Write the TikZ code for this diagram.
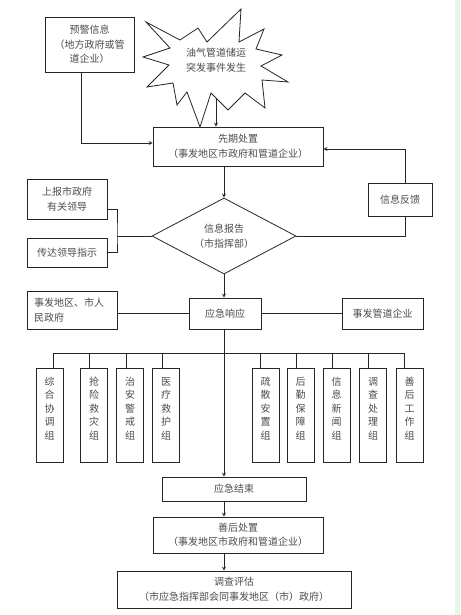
\documentclass[tikz,border=0pt]{standalone}
\usepackage{fontspec}
\usepackage{xcolor}
\usepackage{tikz}
\usetikzlibrary{shapes.geometric}
\newfontfamily\cjk{Noto Sans CJK SC}
\definecolor{stripe}{RGB}{235,246,235}

\begin{document}
\begin{tikzpicture}[x=1pt,y=-1pt,>=stealth,
  every node/.style={font=\cjk\fontsize{10}{14.5}\selectfont,text=black!70},
  box/.style={draw=black!85,line width=0.8pt,align=center,inner sep=1pt},
  grp/.style={box,minimum width=27pt,minimum height=94pt,font=\cjk\fontsize{10}{13.5}\selectfont},
  line/.style={draw=black!85,line width=0.8pt}]
\useasboundingbox (0,0) rectangle (460,615);
\fill[stripe] (455,0) rectangle (460,615);

% burst
\filldraw[line,fill=white] (146,22) -- (180,40) -- (198,28) -- (207,42) -- (241,9) -- (239,42)
  -- (264,29) -- (256,49) -- (282,55) -- (261,66) -- (288,82) -- (262,80) -- (265,108)
  -- (245,93) -- (228,110) -- (211,93) -- (200,127) -- (187,92) -- (177,105) -- (173,83)
  -- (147,87) -- (169,65) -- (143,57) -- (170,48) -- cycle;
\node[align=center] (burst) at (216,60) {油气管道储运\\突发事件发生};
\coordinate (burstTip) at (216,98);

\node[box,minimum width=89pt,minimum height=55pt] (warn) at (89.5,44.5) {预警信息\\（地方政府或管\\道企业）};
\node[box,minimum width=170pt,minimum height=39pt] (first) at (238,146.5) {先期处置\\（事发地区市政府和管道企业）};
\node[draw=black!85,line width=0.8pt,diamond,aspect=1.9,minimum width=144pt,minimum height=76pt,inner sep=1pt,align=center] (info) at (224,236) {信息报告\\（市指挥部）};
\node[box,minimum width=80pt,minimum height=40pt] (report) at (67,199) {上报市政府\\有关领导};
\node[box,minimum width=80pt,minimum height=29pt] (relay) at (67,252.5) {传达领导指示};
\node[box,minimum width=64pt,minimum height=33pt] (feedback) at (400,199.5) {信息反馈};
\coordinate (brk) at (117,236);

\node[box,minimum width=72pt,minimum height=31pt] (resp) at (225,313.5) {应急响应};
\node[box,minimum width=90pt,minimum height=38pt,align=left,text width=76pt] (gov) at (72,310) {事发地区、市人\\民政府};
\node[box,minimum width=81pt,minimum height=31pt] (corp) at (382.5,313.5) {事发管道企业};

% groups
\coordinate (busL) at (53,353);
\coordinate (busR) at (404,353);
\draw[line] (busL) -- (busR);
\foreach \n/\x/\d/\t in {g1/49.5/53/{综\\合\\协\\调\\组}, g2/94/89/{抢\\险\\救\\灾\\组},
    g3/130/126/{治\\安\\警\\戒\\组}, g4/166/162/{医\\疗\\救\\护\\组},
    g5/265.5/260/{疏\\散\\安\\置\\组}, g6/300.5/296/{后\\勤\\保\\障\\组},
    g7/336.5/332/{信\\息\\新\\闻\\组}, g8/373/368/{调\\查\\处\\理\\组},
    g9/409.5/404/{善\\后\\工\\作\\组}}{
  \node[grp] (\n) at (\x,415) {\t\\{}};
  \coordinate (d\n) at (\d,353);
  \draw[line] (d\n) -- (\n.north -| d\n);
}

\node[box,minimum width=144pt,minimum height=24pt] (end) at (234,489) {应急结束};
\node[box,minimum width=170pt,minimum height=36pt] (after) at (238,535) {善后处置\\（事发地区市政府和管道企业）};
\node[box,minimum width=234pt,minimum height=37pt] (eval) at (234,589.5) {调查评估\\（市应急指挥部会同事发地区（市）政府）};

% connectors
\draw[line,->] (burstTip) -- (burstTip |- first.north);
\draw[line,->] ([xshift=-8.5pt]warn.south) |- ([yshift=3.5pt]first.west);
\draw[line,->] (first.south -| info.north) -- (info.north);
\draw[line] ([yshift=-10pt]report.east) -| (brk) |- (relay.east);
\draw[line] (brk) -- (info.west);
\draw[line] (info.east) -| ([xshift=5pt]feedback.south);
\draw[line,->] ([xshift=5pt]feedback.north) |- ([yshift=-2.5pt]first.east);
\draw[line,->] (info.south) -- (info.south |- resp.north);
\draw[line] (gov.east |- resp.west) -- (resp.west);
\draw[line] (resp.east) -- (corp.west);
\draw[line,->] (info.south |- resp.south) -- (info.south |- end.north);
\draw[line,->] (info.south |- end.south) -- (info.south |- after.north);
\draw[line,->] (info.south |- after.south) -- (info.south |- eval.north);
\end{tikzpicture}
\end{document}
